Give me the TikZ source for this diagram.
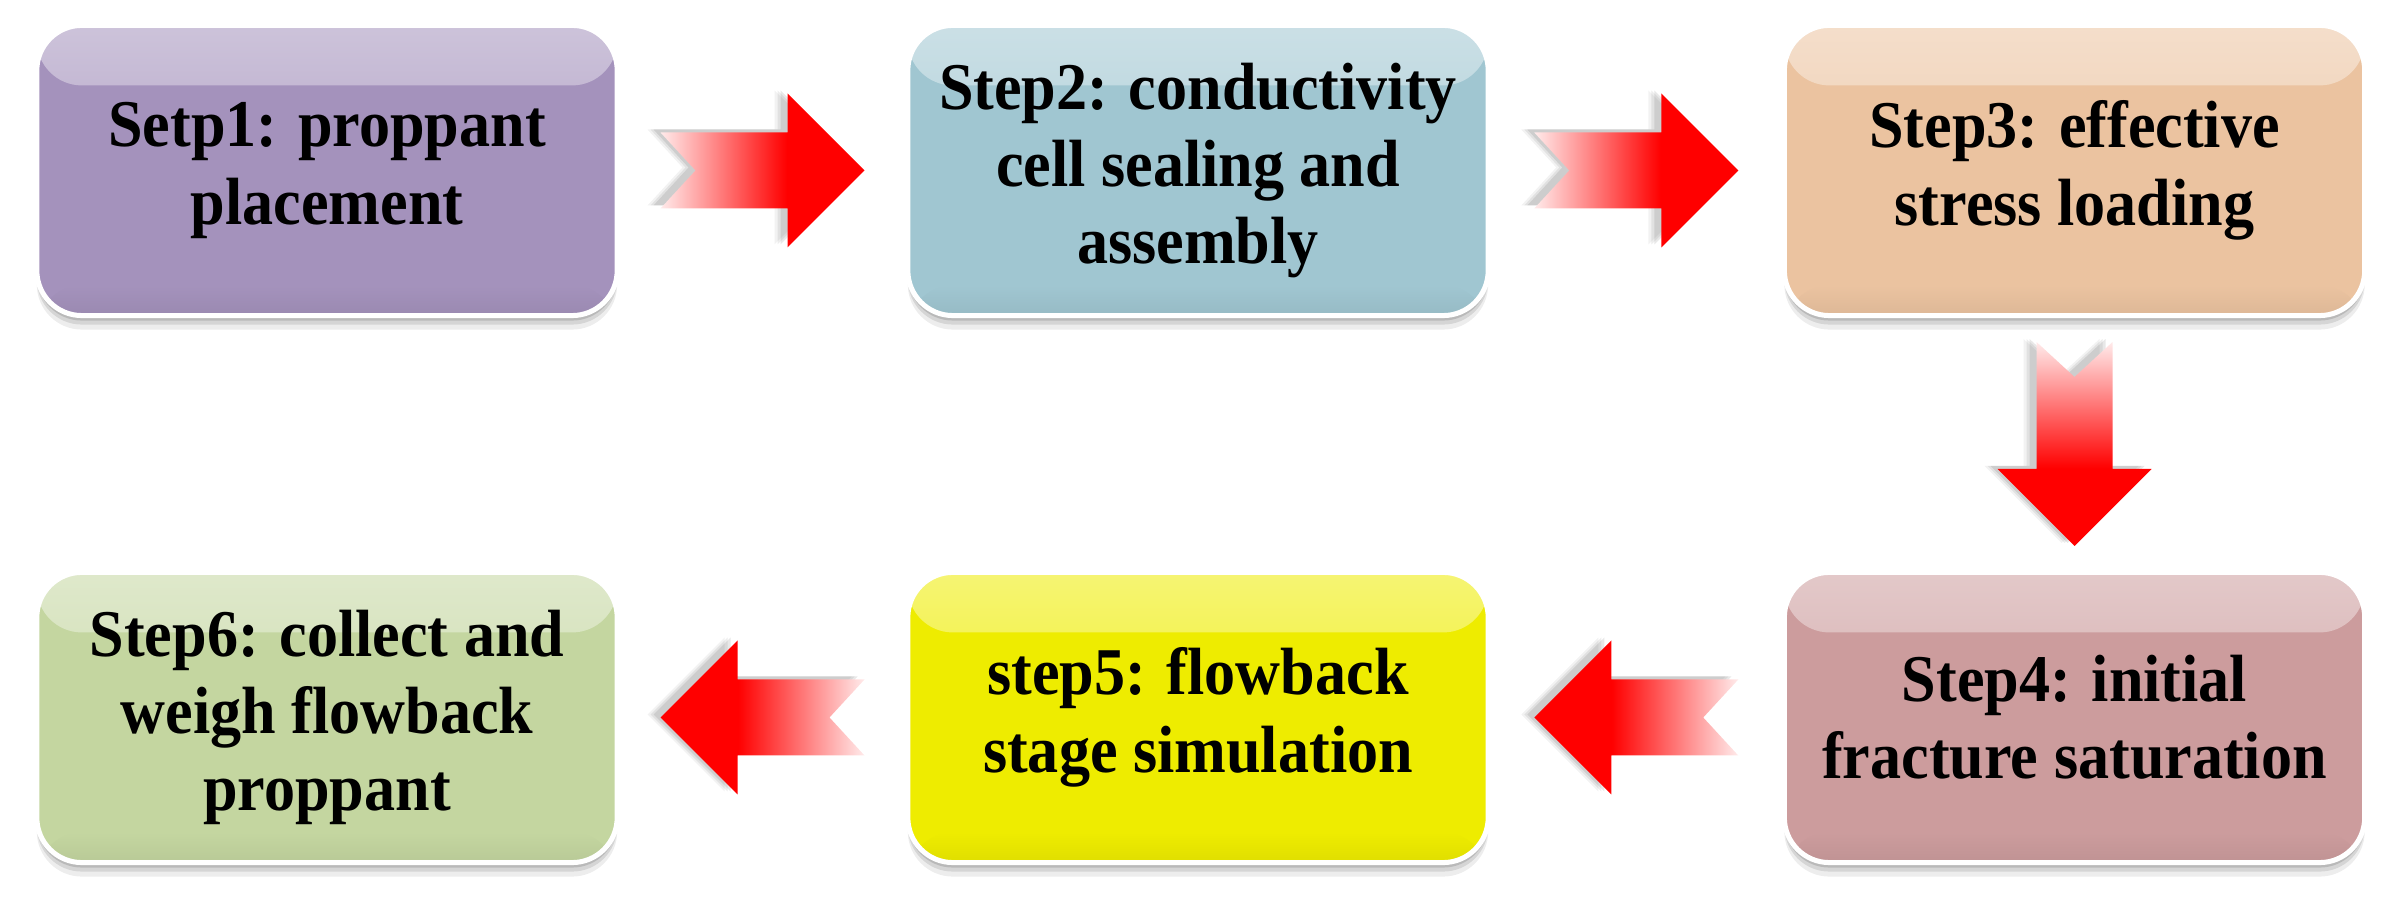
\documentclass[tikz,border=0pt]{standalone}
\usepackage{fontspec}
\setmainfont{Liberation Serif}
\newfontfamily\stepfont[FakeStretch=0.93]{Liberation Serif}
\usepackage{tikz}
\usetikzlibrary{calc,shadows}

\definecolor{lilac}{RGB}{164,146,188}
\definecolor{iceblue}{RGB}{160,198,209}
\definecolor{peach}{RGB}{235,195,160}
\definecolor{rosewood}{RGB}{204,156,157}
\definecolor{lemon}{RGB}{238,236,0}
\definecolor{sage}{RGB}{196,214,160}

\pgfdeclarehorizontalshading{redfade}{100bp}{color(0bp)=(red!8); color(25bp)=(red!8); color(56bp)=(red); color(100bp)=(red)}

\def\arrowpath{(-102,38) -- (25,38) -- (25,77) -- (102,0) -- (25,-77) -- (25,-38) -- (-102,-38) -- (-67,0) -- cycle}

\newcommand{\flowarrow}[3]{%
  \foreach \dx/\op in {-13/0.05,-10/0.07,-7/0.09}{
    \fill[black, opacity=\op, shift={($(#1)!0.5!(#2)+(\dx,3)$)}, rotate=#3] \arrowpath;}
  \shade[shading=redfade, shading angle=#3, shift={($(#1)!0.5!(#2)$)}, rotate=#3] \arrowpath;
}

\begin{document}
\begin{tikzpicture}[x=0.01cm,y=0.01cm,
    stepbox/.style={rounded corners=0.45cm, minimum width=5.8cm, minimum height=2.9cm,
      draw=white, line width=0.05cm, fill=#1, align=center,
      font=\stepfont\bfseries\fontsize{19}{22}\selectfont,
      drop shadow={shadow xshift=0cm, shadow yshift=-0.05cm, opacity=0.13, fill=black},
      drop shadow={shadow xshift=0cm, shadow yshift=-0.09cm, opacity=0.10, fill=black},
      drop shadow={shadow xshift=0cm, shadow yshift=-0.14cm, opacity=0.07, fill=black},
      path picture={
        \shade[top color=#1!55!white, bottom color=#1]
          (path picture bounding box.north west) rectangle ([yshift=-0.6cm]path picture bounding box.north east);
        \shade[top color=#1, bottom color=#1!94!black]
          ([yshift=0.3cm]path picture bounding box.south west) rectangle (path picture bounding box.south east);
      }}]
  \useasboundingbox (0,0) rectangle (2401,904);
  \node[stepbox=lilac] (s1) at (327,733.5) {Setp1: proppant\\placement};
  \node[stepbox=iceblue] (s2) at (1198,733.5) {Step2: conductivity\\cell sealing and\\assembly};
  \node[stepbox=peach] (s3) at (2074.5,733.5) {Step3: effective\\stress loading};
  \node[stepbox=rosewood] (s4) at (2074.5,186.5) {Step4: initial\\fracture saturation};
  \node[stepbox=lemon] (s5) at (1198,186.5) {step5: flowback\\stage simulation};
  \node[stepbox=sage] (s6) at (327,186.5) {Step6: collect and\\weigh flowback\\proppant};
  \flowarrow{s1.east}{s2.west}{0}
  \flowarrow{s2.east}{s3.west}{0}
  \flowarrow{s3.south}{s4.north}{-90}
  \flowarrow{s4.west}{s5.east}{180}
  \flowarrow{s5.west}{s6.east}{180}
\end{tikzpicture}
\end{document}
